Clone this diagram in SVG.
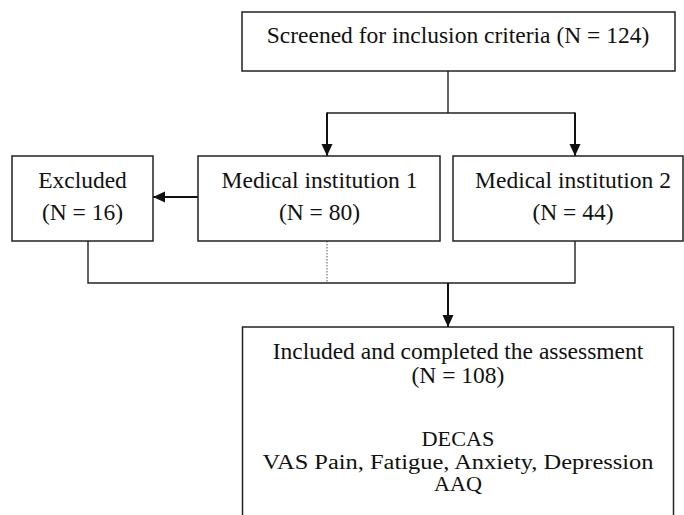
<svg xmlns="http://www.w3.org/2000/svg" width="684" height="515" viewBox="0 0 684 515">
<style>
.box{fill:#fff;stroke:#222;stroke-width:1.5}
.t{font-family:"Liberation Serif","Times New Roman",serif;font-size:23.5px;fill:#111;text-anchor:middle}
.s{font-size:20.5px}
.ln{fill:none;stroke:#222;stroke-width:1.4}
.ar{fill:none;stroke:#111;stroke-width:2}
.dot{fill:none;stroke:#777;stroke-width:1.2;stroke-dasharray:1.5 1.5}
</style>
<defs>
<marker id="ah" markerWidth="12" markerHeight="12" viewBox="0 0 12 12" refX="12" refY="6" orient="auto" markerUnits="userSpaceOnUse">
<path d="M0,0.5 L12,6 L0,11.5 Z" fill="#111"/>
</marker>
</defs>
<rect x="0" y="0" width="684" height="515" fill="#fff"/>
<g id="connectors">
<path class="ln" d="M448,71 V113 M327,113 H575"/>
<path class="ar" d="M327,112.5 V156" marker-end="url(#ah)"/>
<path class="ar" d="M575,112.5 V156" marker-end="url(#ah)"/>
<path class="ar" d="M198,197 H153" marker-end="url(#ah)"/>
<path class="ln" d="M88,241 V283 H575 V241"/>
<path class="dot" d="M327,241 V283"/>
<path class="ar" d="M448,283 V327" marker-end="url(#ah)"/>
</g>
<g id="screened">
<rect class="box" x="242" y="12" width="433" height="59"/>
<text class="t" x="458" y="43">Screened for inclusion criteria (N = 124)</text>
</g>
<g id="excluded">
<rect class="box" x="12" y="156" width="141" height="85"/>
<text class="t" x="82.5" y="188">Excluded</text>
<text class="t" x="82.5" y="220">(N = 16)</text>
</g>
<g id="inst1">
<rect class="box" x="198" y="156" width="242" height="85"/>
<text class="t" x="319.5" y="188">Medical institution 1</text>
<text class="t" x="319.5" y="220">(N = 80)</text>
</g>
<g id="inst2">
<rect class="box" x="453" y="156" width="230" height="85"/>
<text class="t" x="573" y="188">Medical institution 2</text>
<text class="t" x="573" y="220">(N = 44)</text>
</g>
<g id="included">
<rect class="box" x="242.5" y="327" width="431" height="200"/>
<text class="t" x="458" y="359">Included and completed the assessment</text>
<text class="t" x="458" y="383">(N = 108)</text>
<text class="t s" x="458" y="446" textLength="73" lengthAdjust="spacingAndGlyphs">DECAS</text>
<text class="t s" x="458" y="469" textLength="391" lengthAdjust="spacingAndGlyphs">VAS Pain, Fatigue, Anxiety, Depression</text>
<text class="t s" x="458" y="491" textLength="48" lengthAdjust="spacingAndGlyphs">AAQ</text>
</g>
</svg>
